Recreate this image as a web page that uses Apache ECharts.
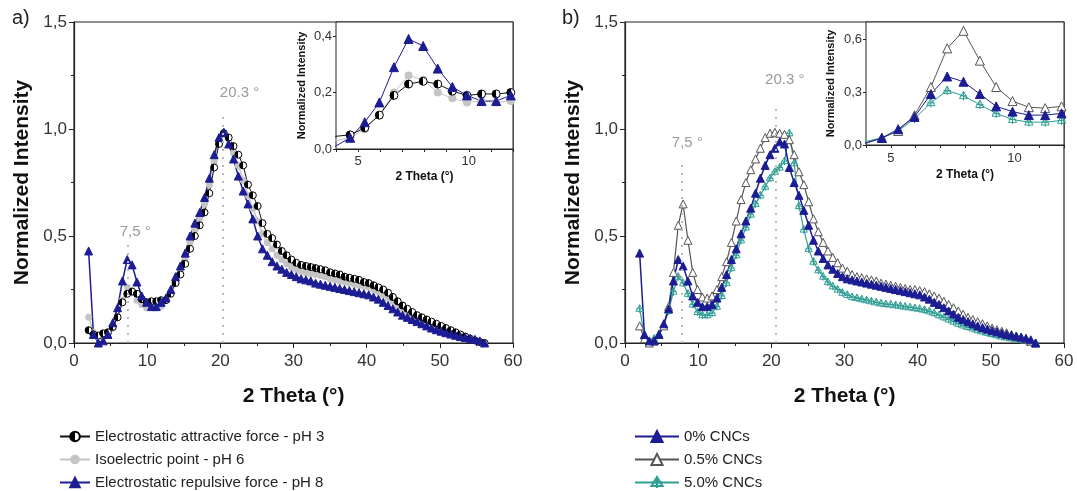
<!DOCTYPE html>
<html>
<head>
<meta charset="utf-8">
<script src="https://cdn.jsdelivr.net/npm/echarts@6/dist/echarts.min.js"></script>
<style>html,body{margin:0;padding:0;background:#fff}#c{width:1077px;height:491px}</style>
</head>
<body>
<div id="c"></div>
<script>
// 2 Theta positions of the measured points (degrees)
const xs = [2.00,2.66,3.32,3.98,4.64,5.30,5.96,6.62,7.28,7.94,8.60,9.26,9.92,10.58,11.24,11.90,12.56,13.22,13.88,14.54,15.20,15.86,16.52,17.18,17.84,18.50,19.16,19.82,20.48,21.14,21.80,22.46,23.12,23.78,24.44,25.10,25.76,26.42,27.08,27.74,28.40,29.06,29.72,30.38,31.04,31.70,32.36,33.02,33.68,34.34,35.00,35.66,36.32,36.98,37.64,38.30,38.96,39.62,40.28,40.94,41.60,42.26,42.92,43.58,44.24,44.90,45.56,46.22,46.88,47.54,48.20,48.86,49.52,50.18,50.84,51.50,52.16,52.82,53.48,54.14,54.80,55.46,56.12];

// Panel a
const pH3 = [0.06,0.04,0.035,0.045,0.05,0.075,0.12,0.19,0.23,0.24,0.23,0.205,0.19,0.195,0.195,0.20,0.20,0.23,0.28,0.32,0.37,0.44,0.50,0.55,0.61,0.70,0.82,0.93,0.98,0.96,0.92,0.88,0.83,0.74,0.69,0.64,0.56,0.51,0.49,0.46,0.43,0.41,0.39,0.375,0.365,0.36,0.355,0.35,0.345,0.34,0.33,0.325,0.32,0.31,0.305,0.30,0.295,0.285,0.28,0.27,0.26,0.25,0.235,0.215,0.195,0.175,0.16,0.145,0.13,0.12,0.11,0.10,0.09,0.08,0.07,0.06,0.05,0.04,0.03,0.02,0.012,0.005,0.0];
const pH6 = [0.12,0.05,0.03,0.03,0.04,0.07,0.12,0.20,0.26,0.245,0.20,0.18,0.165,0.17,0.165,0.17,0.20,0.24,0.29,0.34,0.40,0.47,0.53,0.58,0.65,0.74,0.85,0.95,0.985,0.95,0.89,0.83,0.76,0.69,0.63,0.57,0.51,0.47,0.44,0.41,0.39,0.37,0.355,0.345,0.335,0.33,0.325,0.32,0.315,0.31,0.30,0.295,0.29,0.285,0.28,0.275,0.27,0.265,0.26,0.25,0.24,0.225,0.21,0.195,0.175,0.16,0.145,0.13,0.12,0.11,0.10,0.09,0.08,0.07,0.06,0.05,0.045,0.035,0.028,0.02,0.012,0.005,0.0];
const pH8 = [0.43,0.04,0.0,0.01,0.04,0.095,0.165,0.29,0.39,0.365,0.285,0.22,0.19,0.17,0.17,0.19,0.21,0.25,0.31,0.36,0.42,0.50,0.56,0.61,0.68,0.77,0.88,0.96,0.985,0.93,0.86,0.78,0.71,0.65,0.58,0.50,0.44,0.41,0.38,0.36,0.345,0.33,0.32,0.31,0.30,0.295,0.29,0.28,0.275,0.27,0.265,0.26,0.255,0.25,0.245,0.24,0.235,0.23,0.225,0.215,0.205,0.19,0.175,0.16,0.145,0.13,0.12,0.11,0.10,0.09,0.08,0.07,0.062,0.055,0.048,0.042,0.036,0.03,0.026,0.022,0.017,0.01,0.0];

// Panel b
const cnc0 = [0.42,0.04,0.01,0.01,0.04,0.09,0.16,0.29,0.39,0.36,0.29,0.22,0.19,0.17,0.17,0.18,0.21,0.26,0.32,0.39,0.44,0.51,0.57,0.63,0.70,0.77,0.83,0.88,0.91,0.94,0.93,0.82,0.75,0.69,0.62,0.55,0.48,0.43,0.395,0.365,0.345,0.325,0.31,0.30,0.295,0.29,0.285,0.28,0.275,0.27,0.265,0.26,0.255,0.25,0.245,0.24,0.235,0.23,0.225,0.215,0.205,0.19,0.18,0.165,0.15,0.135,0.12,0.11,0.10,0.09,0.08,0.072,0.065,0.058,0.052,0.046,0.04,0.036,0.032,0.028,0.022,0.015,0.0];
const cnc05 = [0.08,0.02,0.0,0.01,0.04,0.08,0.17,0.33,0.55,0.65,0.48,0.33,0.25,0.215,0.21,0.22,0.25,0.31,0.38,0.47,0.57,0.67,0.75,0.81,0.86,0.91,0.96,0.98,0.985,0.98,0.975,0.95,0.88,0.80,0.74,0.66,0.58,0.52,0.47,0.43,0.40,0.375,0.35,0.335,0.32,0.31,0.305,0.30,0.295,0.29,0.28,0.275,0.27,0.265,0.26,0.255,0.25,0.25,0.245,0.24,0.23,0.22,0.21,0.195,0.18,0.165,0.15,0.135,0.12,0.11,0.10,0.09,0.08,0.07,0.062,0.055,0.048,0.04,0.033,0.025,0.017,0.008,0.0];
const cnc5 = [0.16,0.03,0.0,0.02,0.04,0.08,0.15,0.24,0.31,0.28,0.23,0.18,0.145,0.13,0.13,0.14,0.17,0.22,0.28,0.35,0.41,0.48,0.54,0.60,0.65,0.69,0.73,0.77,0.80,0.82,0.85,0.98,0.84,0.64,0.53,0.44,0.38,0.34,0.31,0.285,0.265,0.25,0.235,0.225,0.215,0.21,0.205,0.20,0.195,0.19,0.185,0.182,0.18,0.177,0.174,0.17,0.167,0.163,0.16,0.155,0.148,0.14,0.13,0.12,0.11,0.10,0.09,0.082,0.075,0.068,0.06,0.054,0.048,0.042,0.036,0.03,0.026,0.022,0.018,0.014,0.01,0.005,0.0];

const mainYTicks = [0, 0.5, 1.0, 1.5];
const insetXTicks = [5, 10];

const NAVY = '#1c1c94', BLACK = '#111111', LGRAY = '#c4c4c4', DGRAY = '#555555', TEAL = '#2f9e93';
const FONT = 'Liberation Sans, Arial, sans-serif';
const comma = v => v.toFixed(1).replace('.', ',');
const pairs = ys => xs.map((x, i) => [x, ys[i]]);

const halfFill = new echarts.graphic.LinearGradient(0, 0, 1, 0, [
  {offset: 0, color: '#000'}, {offset: 0.5, color: '#000'},
  {offset: 0.5, color: '#fff'}, {offset: 1, color: '#fff'}]);
const crossTri = 'path://M5,0 L10,9 L0,9 Z M5,0 L5,11 M0.5,5.5 L9.5,5.5';

const styles = {
  'Electrostatic attractive force - pH 3': {symbol: 'circle', size: 7, line: BLACK, lw: 1, item: {color: halfFill, borderColor: '#000', borderWidth: 1}},
  'Isoelectric point - pH 6': {symbol: 'circle', size: 7, line: LGRAY, lw: 1.5, item: {color: LGRAY, borderColor: LGRAY, borderWidth: 0}},
  'Electrostatic repulsive force - pH 8': {symbol: 'triangle', size: 8, line: NAVY, lw: 1.5, item: {color: NAVY, borderColor: NAVY, borderWidth: 1}},
  '0% CNCs': {symbol: 'triangle', size: 8, line: NAVY, lw: 1.5, item: {color: NAVY, borderColor: NAVY, borderWidth: 1}},
  '0.5% CNCs': {symbol: 'triangle', size: 8, line: DGRAY, lw: 1.2, item: {color: '#fff', borderColor: DGRAY, borderWidth: 1}},
  '5.0% CNCs': {symbol: crossTri, size: 8, line: TEAL, lw: 1.2, item: {color: 'rgba(255,255,255,0)', borderColor: TEAL, borderWidth: 1}}
};

function mk(name, ys, idx, inset, extra) {
  const s = styles[name];
  return Object.assign({
    name: name, type: 'line', xAxisIndex: idx, yAxisIndex: idx,
    data: pairs(ys), symbol: s.symbol, symbolSize: inset ? s.size + 1 : s.size,
    symbolKeepAspect: true, showAllSymbol: true, clip: true,
    lineStyle: {color: s.line, width: inset ? 1 : s.lw},
    itemStyle: s.item, z: inset ? 10 : 2, animation: false
  }, extra || {});
}

function vline(x, top) {
  return {
    markLine: {silent: true, symbol: 'none', animation: false,
      lineStyle: {type: [2, 6], color: '#b8b8b8', width: 2},
      label: {show: false},
      data: [[{coord: [x, 0]}, {coord: [x, top]}]]},
  };
}

function mainX(grid) {
  return {gridIndex: grid, type: 'value', min: 0, max: 60, interval: 10,
    name: '2 Theta (°)', nameLocation: 'middle', nameGap: 43,
    nameTextStyle: {fontFamily: FONT, fontSize: 21, fontWeight: 'bold', color: '#111'},
    axisLine: {lineStyle: {color: '#222', width: 1.2}},
    axisTick: {inside: false, length: 5, lineStyle: {color: '#222'}},
    minorTick: {show: true, splitNumber: 2, length: 3, lineStyle: {color: '#222'}},
    axisLabel: {fontFamily: FONT, fontSize: 17, color: '#333', margin: 10},
    splitLine: {show: false}};
}
function mainY(grid) {
  return {gridIndex: grid, type: 'value', min: 0, max: 1.5, interval: 0.5,
    name: 'Normalized Intensity', nameLocation: 'middle', nameGap: 41, nameRotate: 90,
    nameTextStyle: {fontFamily: FONT, fontSize: 21, fontWeight: 'bold', color: '#111'},
    axisLine: {show: true, lineStyle: {color: '#222', width: 1.2}},
    axisTick: {show: true, inside: false, length: 5, lineStyle: {color: '#222'}},
    minorTick: {show: true, splitNumber: 2, length: 3, lineStyle: {color: '#222'}},
    axisLabel: {fontFamily: FONT, fontSize: 17, color: '#333', margin: 7,
      formatter: v => mainYTicks.some(t => Math.abs(t - v) < 1e-6) ? comma(v) : ''},
    splitLine: {show: false}};
}
function insetX(grid, gap, margin) {
  return {gridIndex: grid, type: 'value', min: 4, max: 12, interval: 1,
    name: '2 Theta (°)', nameLocation: 'middle', nameGap: gap,
    nameTextStyle: {fontFamily: FONT, fontSize: 12, fontWeight: 'bold', color: '#111'},
    axisLine: {lineStyle: {color: '#222'}},
    axisTick: {length: 3, lineStyle: {color: '#222'}},
    axisLabel: {fontFamily: FONT, fontSize: 13, color: '#333', margin: margin,
      formatter: v => insetXTicks.indexOf(v) >= 0 ? String(v) : ''},
    splitLine: {show: false}};
}
function insetY(grid, max, step, gap) {
  return {gridIndex: grid, type: 'value', min: 0, max: max, interval: step,
    name: 'Normalized Intensity', nameLocation: 'middle', nameGap: gap, nameRotate: 90,
    nameTextStyle: {fontFamily: FONT, fontSize: 11, fontWeight: 'bold', color: '#111'},
    axisLine: {show: true, lineStyle: {color: '#222'}},
    axisTick: {show: true, length: 3, lineStyle: {color: '#222'}},
    axisLabel: {fontFamily: FONT, fontSize: 13, color: '#333', margin: 4, showMaxLabel: false,
      formatter: v => comma(v)},
    splitLine: {show: false}};
}

const textPoint = (x, y, txt, dx, dy) => ({
  markPoint: {silent: true, animation: false, symbol: 'circle', symbolSize: 0,
    label: {show: true, position: 'top', offset: [dx, dy], formatter: txt,
      fontFamily: FONT, fontSize: 15, color: '#9a9a9a'},
    data: [{coord: [x, y]}]}
});

const legendBase = {orient: 'vertical', top: 429, padding: 0, height: 90, itemGap: 8,
  textStyle: {fontFamily: FONT, fontSize: 15, lineHeight: 14, color: '#222'}};

const chart = echarts.init(document.getElementById('c'), null, {renderer: 'canvas'});
chart.setOption({
  animation: false,
  backgroundColor: '#fff',
  grid: [
    {left: 74, top: 22, width: 439, height: 321, show: true, borderColor: '#222', borderWidth: 1.2, z: 0},
    {left: 336, top: 22, width: 177, height: 127, show: true, borderColor: '#222', borderWidth: 1, backgroundColor: '#fff', z: 5},
    {left: 625, top: 22, width: 439, height: 321, show: true, borderColor: '#222', borderWidth: 1.2, z: 0},
    {left: 866, top: 22, width: 198, height: 123, show: true, borderColor: '#222', borderWidth: 1, backgroundColor: '#fff', z: 5}
  ],
  xAxis: [mainX(0), insetX(1, 22, 6), mainX(2), insetX(3, 24, 7)],
  yAxis: [mainY(0), insetY(1, 0.45, 0.2, 29), mainY(2), insetY(3, 0.7, 0.3, 30)],
  legend: [
    Object.assign({}, legendBase, {left: 59, itemWidth: 30, itemHeight: 12,
      data: ['Electrostatic attractive force - pH 3', 'Isoelectric point - pH 6', 'Electrostatic repulsive force - pH 8']}),
    Object.assign({}, legendBase, {left: 634, itemWidth: 44, itemHeight: 14,
      data: ['0% CNCs', '0.5% CNCs', '5.0% CNCs']})
  ],
  graphic: [
    {type: 'text', left: 12, top: 8, style: {text: 'a)', fontFamily: FONT, fontSize: 20, fill: '#222'}},
    {type: 'text', left: 562, top: 8, style: {text: 'b)', fontFamily: FONT, fontSize: 20, fill: '#222'}}
  ],
  series: [
    mk('Isoelectric point - pH 6', pH6, 0, false, vline(7.4, 0.46)),
    mk('Electrostatic attractive force - pH 3', pH3, 0, false, vline(20.3, 1.065)),
    mk('Electrostatic repulsive force - pH 8', pH8, 0, false),
    {type: 'scatter', xAxisIndex: 0, yAxisIndex: 0, data: [], silent: true, ...textPoint(20.3, 1.065, '20.3 °', 17, -10)},
    {type: 'scatter', xAxisIndex: 0, yAxisIndex: 0, data: [], silent: true, ...textPoint(7.4, 0.46, '7,5 °', 7, 0)},
    mk('Isoelectric point - pH 6', pH6, 1, true),
    mk('Electrostatic attractive force - pH 3', pH3, 1, true),
    mk('Electrostatic repulsive force - pH 8', pH8, 1, true),

    mk('5.0% CNCs', cnc5, 2, false, vline(7.7, 0.86)),
    mk('0.5% CNCs', cnc05, 2, false, vline(20.6, 1.11)),
    mk('0% CNCs', cnc0, 2, false),
    {type: 'scatter', xAxisIndex: 2, yAxisIndex: 2, data: [], silent: true, ...textPoint(20.6, 1.11, '20.3 °', 9, -13)},
    {type: 'scatter', xAxisIndex: 2, yAxisIndex: 2, data: [], silent: true, ...textPoint(7.7, 0.86, '7,5 °', 6, -4)},
    mk('5.0% CNCs', cnc5, 3, true),
    mk('0.5% CNCs', cnc05, 3, true),
    mk('0% CNCs', cnc0, 3, true)
  ]
});
</script>
</body>
</html>
